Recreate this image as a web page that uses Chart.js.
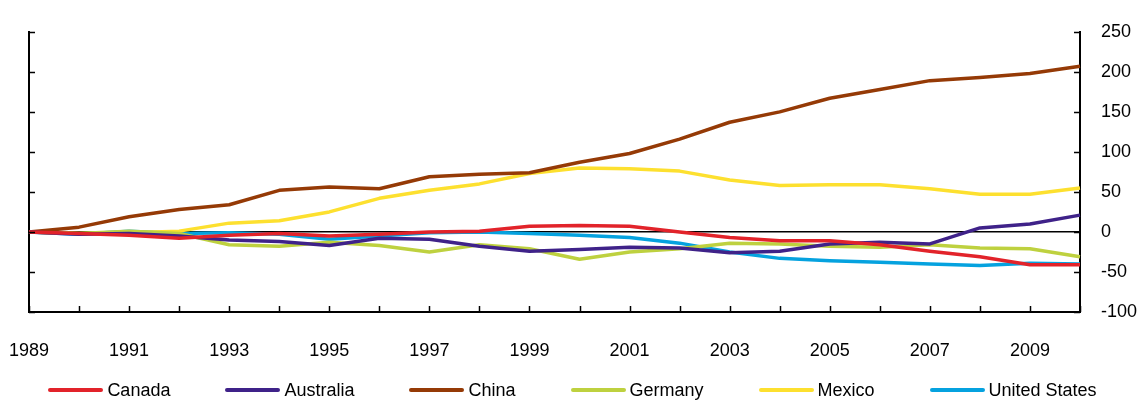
<!DOCTYPE html>
<html>
<head>
<meta charset="utf-8">
<script src="https://cdn.jsdelivr.net/npm/chart.js@4/dist/chart.umd.min.js"></script>
<style>
  html, body { margin: 0; padding: 0; background: #fff; }
  #wrap { position: relative; width: 1145px; height: 402px; font-family: "Liberation Sans", Arial, sans-serif; }
  #chart { position: absolute; left: 0; top: 0; }
  #legend { position: absolute; left: 0; top: 379px; width: 1145px; display: flex; justify-content: center; gap: 55px; font-size: 18px; line-height: 22px; color: #000; }
  .item { display: flex; align-items: center; }
  .sw { width: 55px; height: 4px; border-radius: 2px; margin-right: 4px; }
</style>
</head>
<body>
<div id="wrap">
  <canvas id="chart" width="1145" height="402"></canvas>
  <div id="legend"></div>
</div>
<script>
// ===== data =====
const years = ['1989','1990','1991','1992','1993','1994','1995','1996','1997','1998','1999',
               '2000','2001','2002','2003','2004','2005','2006','2007','2008','2009','2010'];

const canada    = [0, -2, -4, -8, -4, -2, -5, -3, 0, 1, 7, 8, 7, 0, -7, -11, -11, -16, -24, -31, -41, -41];
const australia = [0, -3, -2, -5, -10, -12, -17, -8, -9, -18, -24, -22, -19, -20, -26, -24, -15, -13, -15, 5, 10, 21];
const china     = [0, 6, 19, 28, 34, 52, 56, 54, 69, 72, 74, 87, 98, 116, 137, 150, 167, 178, 189, 193, 198, 207];
const germany   = [0, -2, 1, -2, -16, -18, -13, -17, -25, -16, -21, -34, -25, -21, -14, -15, -18, -19, -16, -20, -21, -31];
const mexico    = [0, -2, -1, 1, 11, 14, 25, 42, 52, 60, 73, 80, 79, 76, 65, 58, 59, 59, 54, 47, 47, 55];
const usa       = [0, -3, 1, -2, -1, -3, -9, -5, -1, 0, -2, -4, -7, -14, -25, -33, -36, -38, -40, -42, -39, -40];

const names  = ['Canada', 'Australia', 'China', 'Germany', 'Mexico', 'United States'];
const series = [canada, australia, china, germany, mexico, usa];
const colors = ['#e2232a', '#3f2289', '#953a06', '#bed13f', '#fde02f', '#05a2df'];

const yMin = -100, yMax = 250, yStep = 50;
const FONT = '"Liberation Sans", Arial, sans-serif';

// ===== inward tick marks =====
const innerTicks = {
  id: 'innerTicks',
  afterDraw(chart) {
    const { ctx, chartArea: a, scales } = chart;
    ctx.save();
    ctx.strokeStyle = '#000';
    ctx.lineWidth = 1.5;
    ctx.beginPath();
    scales.y.ticks.forEach(t => {
      const py = Math.round(scales.y.getPixelForValue(t.value)) + 0.5;
      ctx.moveTo(a.left, py); ctx.lineTo(a.left + 6, py);
      ctx.moveTo(a.right - 6, py); ctx.lineTo(a.right, py);
    });
    years.forEach((yr, i) => {
      const px = Math.round(scales.x.getPixelForValue(i)) + 0.5;
      ctx.moveTo(px, a.bottom); ctx.lineTo(px, a.bottom - 6);
    });
    ctx.stroke();
    ctx.restore();
  }
};

// ===== chart =====
function initChart() {
  const ctx = document.getElementById('chart');

  new Chart(ctx, {
    type: 'line',
    data: {
      labels: years,
      datasets: names.map((n, i) => ({
        label: n,
        data: series[i],
        borderColor: colors[i],
        backgroundColor: colors[i],
        borderWidth: 3.5,
        tension: 0,
        fill: false,
        pointRadius: 0,
        borderJoinStyle: 'round',
        yAxisID: 'y'
      }))
    },
    options: {
      responsive: false,
      animation: false,
      layout: { padding: { top: 26, bottom: 40, left: 0, right: 0 } },
      plugins: {
        legend: { display: false },
        tooltip: { enabled: false }
      },
      scales: {
        x: {
          offset: false,
          grid: { display: true, color: 'rgba(0,0,0,0)', drawTicks: false },
          border: { display: true, color: '#000', width: 2 },
          ticks: {
            autoSkip: false, maxRotation: 0, minRotation: 0, padding: 28,
            color: '#000', font: { size: 18, family: FONT },
            callback: (v, i) => (i % 2 === 0 ? years[i] : '')
          },
          afterFit: s => {
            s.height = 50;
            s.paddingLeft = 0;
            s.paddingRight = 0;
          }
        },
        y: {
          position: 'right',
          min: yMin, max: yMax,
          grid: {
            drawTicks: false,
            color: c => (c.tick && c.tick.value === 0 ? '#000' : 'rgba(0,0,0,0)'),
            lineWidth: 1.5
          },
          border: { display: true, color: '#000', width: 2 },
          ticks: {
            stepSize: yStep, padding: 21, crossAlign: 'near',
            color: '#000', font: { size: 18, family: FONT }
          },
          afterFit: s => { s.width = 65; }
        },
        yl: {
          position: 'left',
          min: yMin, max: yMax,
          grid: { display: true, color: 'rgba(0,0,0,0)', drawTicks: false },
          border: { display: true, color: '#000', width: 2 },
          ticks: { display: false, stepSize: yStep },
          afterFit: s => { s.width = 29; }
        }
      }
    },
    plugins: [innerTicks]
  });

  // ===== legend =====
  const leg = document.getElementById('legend');
  names.forEach((n, i) => {
    const item = document.createElement('div');
    item.className = 'item';
    const sw = document.createElement('span');
    sw.className = 'sw';
    sw.style.background = colors[i];
    const txt = document.createElement('span');
    txt.textContent = n;
    item.appendChild(sw);
    item.appendChild(txt);
    leg.appendChild(item);
  });
}

initChart();
</script>
</body>
</html>
